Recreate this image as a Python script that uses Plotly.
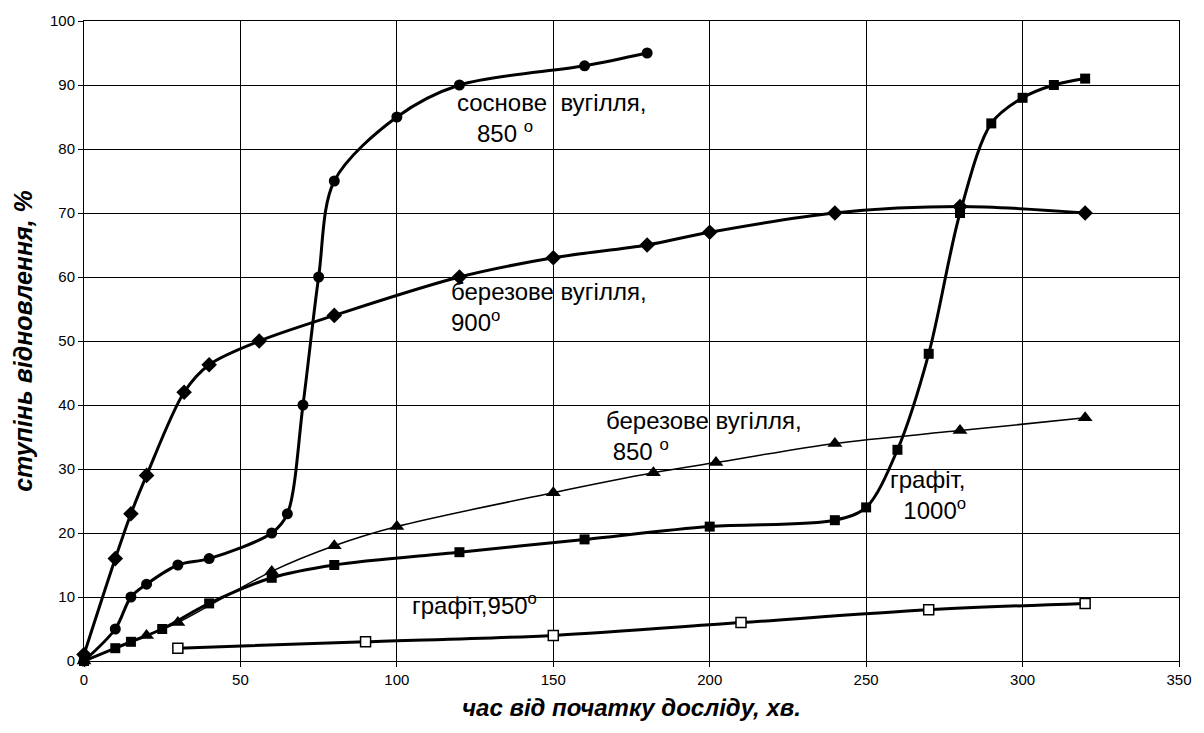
import plotly.graph_objects as go

# ---- data ----
pine850_x = [0, 10, 15, 20, 30, 40, 60, 65, 70, 75, 80, 100, 120, 160, 180]
pine850_y = [0, 5, 10, 12, 15, 16, 20, 23, 40, 60, 75, 85, 90, 93, 95]

birch900_x = [0, 10, 15, 20, 32, 40, 56, 80, 120, 150, 180, 200, 240, 280, 320]
birch900_y = [1, 16, 23, 29, 42, 46.3, 50, 54, 60, 63, 65, 67, 70, 71, 70]

birch850_x = [0, 20, 30, 60, 80, 100, 150, 182, 202, 240, 280, 320]
birch850_y = [0, 4, 6, 14, 18, 21, 26.3, 29.4, 31, 34, 36, 38]

graph1000_x = [0, 10, 15, 25, 40, 60, 80, 120, 160, 200, 240, 250, 260, 270, 280, 290, 300, 310, 320]
graph1000_y = [0, 2, 3, 5, 9, 13, 15, 17, 19, 21, 22, 24, 33, 48, 70, 84, 88, 90, 91]

graph950_x = [30, 90, 150, 210, 270, 320]
graph950_y = [2, 3, 4, 6, 8, 9]

x_ticks = [0, 50, 100, 150, 200, 250, 300, 350]
y_ticks = [0, 10, 20, 30, 40, 50, 60, 70, 80, 90, 100]

x_title = "час від початку досліду, хв."
y_title = "ступінь відновлення, %"

FONT = "Liberation Sans, Arial, sans-serif"
NB = "\u00a0"

fig = go.Figure()

def add(x, y, symbol, lw, ms, fill="black"):
    fig.add_trace(go.Scatter(
        x=x, y=y, mode="lines+markers",
        line=dict(color="black", width=lw, shape="spline", smoothing=0.9),
        marker=dict(symbol=symbol, size=ms, color=fill,
                    line=dict(color="black", width=1.5 if fill == "white" else 0)),
        showlegend=False, cliponaxis=False))

add(birch850_x, birch850_y, "triangle-up", 1.5, 13)
add(graph950_x, graph950_y, "square", 3, 10, fill="white")
add(graph1000_x, graph1000_y, "square", 3, 10)
add(birch900_x, birch900_y, "diamond", 3, 12)
add(pine850_x, pine850_y, "circle", 3, 11)

ann_font = dict(family=FONT, size=24, color="black")
labels = [
    ("соснове  вугілля,<br>" + NB * 3 + "850 <sup>o</sup>", 118.5, 84.8),
    ("березове вугілля,<br>900<sup>o</sup>", 116.6, 55.3),
    ("березове вугілля,<br>" + NB + "850 <sup>o</sup>", 166.1, 35.2),
    ("графіт,<br>" + NB * 2 + "1000<sup>o</sup>", 257.0, 25.9),
    ("графіт,950<sup>o</sup>", 104.3, 8.9),
]
for t, x, y in labels:
    fig.add_annotation(x=x, y=y, text=t, showarrow=False, xanchor="left",
                       yanchor="middle", align="left", font=ann_font)

axis_common = dict(
    showgrid=True, gridcolor="black", gridwidth=1,
    showline=True, linecolor="black", linewidth=1, mirror=True,
    ticks="outside", ticklen=5, tickcolor="black",
    tickfont=dict(family=FONT, size=15, color="black"),
    zeroline=False,
)

fig.update_xaxes(range=[0, 350], tickvals=x_ticks, **axis_common,
                 title=dict(text=f"<b><i>{x_title}</i></b>",
                            font=dict(family=FONT, size=24, color="black"),
                            standoff=12))
fig.update_yaxes(range=[0, 100], tickvals=y_ticks, **axis_common,
                 title=dict(text=f"<b><i>{y_title}</i></b>",
                            font=dict(family=FONT, size=25, color="black"),
                            standoff=10))

fig.update_layout(
    width=1204, height=733,
    margin=dict(l=84, r=16, t=20, b=72),
    plot_bgcolor="white", paper_bgcolor="white",
)

fig.write_html("out.html")
